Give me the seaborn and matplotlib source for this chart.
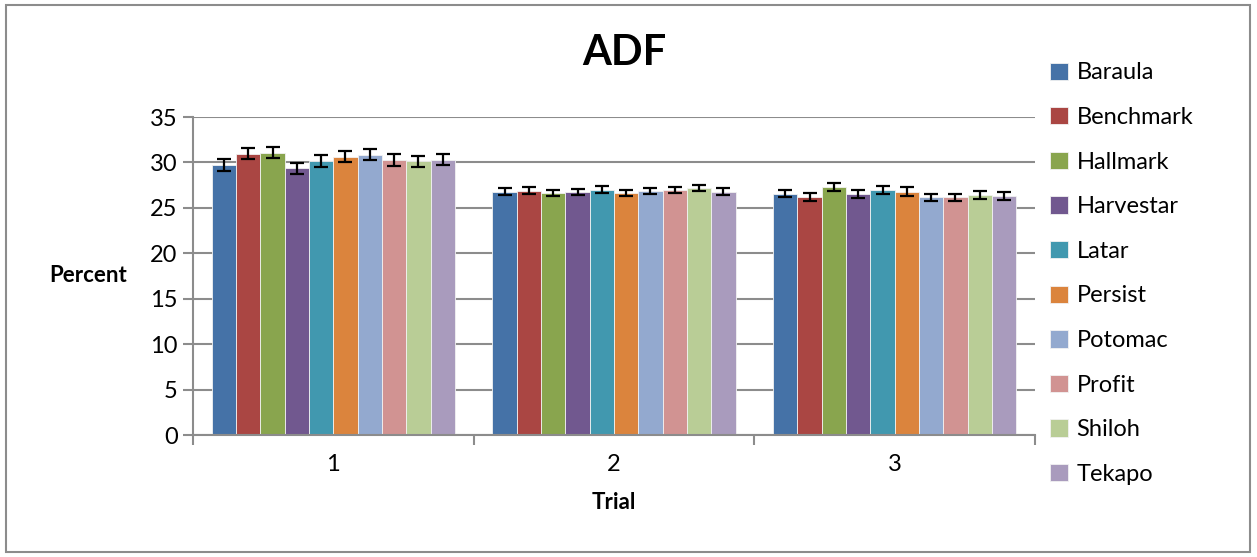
import numpy as np
import pandas as pd
import seaborn as sns
import matplotlib.pyplot as plt
from matplotlib.patches import Rectangle

trials = ["1", "2", "3"]
cultivars = ["Baraula", "Benchmark", "Hallmark", "Harvestar", "Latar",
             "Persist", "Potomac", "Profit", "Shiloh", "Tekapo"]
# ADF percent, one list per trial (order = cultivars)
trial1 = [29.74, 30.96, 31.07, 29.37, 30.15, 30.63, 30.85, 30.29, 30.11, 30.29]
trial2 = [26.80, 26.91, 26.62, 26.73, 27.02, 26.65, 26.87, 26.99, 27.17, 26.80]
trial3 = [26.58, 26.18, 27.28, 26.51, 26.95, 26.80, 26.14, 26.14, 26.40, 26.32]
# error bar half-widths per trial
err1 = [0.63, 0.63, 0.63, 0.60, 0.62, 0.62, 0.62, 0.64, 0.62, 0.62]
err2 = [0.40, 0.39, 0.35, 0.35, 0.37, 0.35, 0.35, 0.35, 0.35, 0.35]
err3 = [0.44, 0.44, 0.44, 0.46, 0.44, 0.46, 0.44, 0.44, 0.44, 0.42]
colors = ["#4572A7", "#AA4643", "#89A54E", "#71588F", "#4198AF",
          "#DB843D", "#93A9CF", "#D19392", "#B9CD96", "#A99BBD"]

rows = []
for t, vals, errs in zip(trials, [trial1, trial2, trial3], [err1, err2, err3]):
    for c, v, e in zip(cultivars, vals, errs):
        rows.append([t, c, v, e])
df = pd.DataFrame(rows, columns=["Trial", "Cultivar", "Percent", "Err"])

sns.set_style("white")
plt.rcParams["font.family"] = ["Lato", "DejaVu Sans"]
plt.rcParams["text.color"] = "black"
plt.rcParams["axes.labelcolor"] = "black"
plt.rcParams["xtick.color"] = "black"
plt.rcParams["ytick.color"] = "black"

fig = plt.figure(figsize=(12.57, 5.57), dpi=100)
ax = fig.add_axes([193 / 1257, 1 - 435 / 557, (1035 - 193) / 1257, (435 - 117) / 557])

sns.barplot(data=df, x="Trial", y="Percent", hue="Cultivar", hue_order=cultivars,
            palette=colors, saturation=1, errorbar=None, width=0.866, ax=ax,
            edgecolor="#f2f2f2", linewidth=0.6, zorder=2)

# error bars placed at the bar centres seaborn computed
for cont, cult in zip(ax.containers, cultivars):
    sub = df[df["Cultivar"] == cult]
    xs = [b.get_x() + b.get_width() / 2 for b in cont]
    hs = [b.get_height() for b in cont]
    ax.errorbar(xs, hs, yerr=sub["Err"].values, fmt="none", ecolor="black",
                elinewidth=1.6, capsize=5, capthick=1.6, zorder=3)

ax.set_ylim(0, 35)
ax.set_xlim(-0.5, 2.5)
ax.set_yticks(range(0, 36, 5))
ax.yaxis.grid(True, color="#8c8c8c", linewidth=1.5, zorder=0)
ax.set_axisbelow(True)
for s in ["top", "right"]:
    ax.spines[s].set_visible(False)
for s in ["left", "bottom"]:
    ax.spines[s].set_color("#8c8c8c")
    ax.spines[s].set_linewidth(1.5)

ax.tick_params(axis="y", which="major", length=7, width=1.5, color="#8c8c8c",
               labelcolor="black", direction="out", left=True, labelsize=17, pad=4)
ax.tick_params(axis="x", which="major", length=0, labelsize=17, pad=14,
               labelcolor="black")
ax.set_xticks([-0.5, 0.5, 1.5, 2.5], minor=True)
ax.tick_params(axis="x", which="minor", length=7, width=1.5, color="#8c8c8c",
               direction="out", bottom=True)

ax.set_ylabel("Percent", fontsize=16, fontweight="bold", rotation=0,
              ha="center", va="center")
ax.yaxis.set_label_coords(-0.125, 0.5)
ax.set_xlabel("Trial", fontsize=16, fontweight="bold", labelpad=12)

fig.text(0.497, 0.905, "ADF", fontsize=30, fontweight="bold", ha="center",
         va="center", color="black")

leg = ax.legend(loc="upper left", bbox_to_anchor=(1041 / 1257, 1 - 53 / 557),
                bbox_transform=fig.transFigure, frameon=False, fontsize=17,
                handlelength=0.75, handleheight=0.75, handletextpad=0.35,
                labelspacing=1.0, borderaxespad=0)

fig.patches.append(Rectangle((6 / 1257, 5 / 557), 1244 / 1257, 547 / 557,
                             transform=fig.transFigure, fill=False,
                             edgecolor="#8c8c8c", linewidth=1.5))

fig.savefig("out.png", dpi=100)
